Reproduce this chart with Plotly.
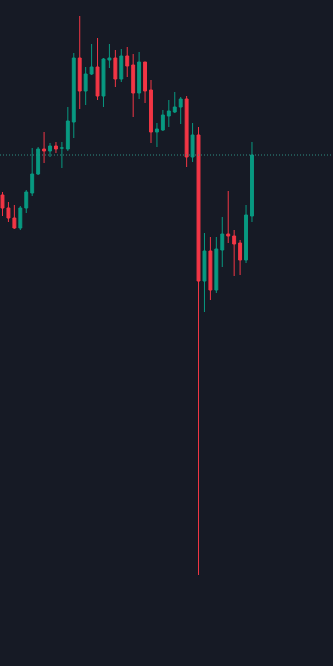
import plotly.graph_objects as go

# Price values (arbitrary units; higher = higher price)
idx = list(range(43))
opens = [471, 458, 448, 438, 458, 473, 492, 517, 515, 520, 518, 517, 544, 608, 575, 592, 599, 570, 606, 608, 587, 610, 601, 573, 604, 576, 534, 536, 550, 554, 559, 567, 509, 531, 385, 415, 376, 416, 432, 430, 423, 406, 450]
highs = [474, 464, 461, 460, 476, 518, 519, 534, 523, 524, 524, 559, 613, 650, 599, 622, 628, 608, 622, 616, 617, 619, 612, 614, 604, 586, 543, 556, 566, 574, 569, 570, 543, 539, 433, 429, 429, 449, 475, 436, 426, 461, 524]
lows = [450, 444, 437, 436, 453, 470, 491, 503, 509, 513, 498, 515, 528, 557, 561, 591, 566, 559, 598, 579, 584, 589, 549, 567, 563, 523, 519, 535, 539, 553, 542, 499, 504, 91, 354, 366, 373, 399, 423, 390, 391, 403, 444]
closes = [458, 448, 438, 458, 474, 492, 517, 515, 520, 517, 518, 545, 608, 575, 592, 599, 570, 607, 608, 587, 610, 600, 573, 604, 575, 534, 537, 551, 555, 559, 567, 509, 531, 385, 415, 376, 417, 432, 430, 422, 406, 451, 511]
last_price = 511

UP = "#089981"
DOWN = "#F23645"
BG = "#161A25"

fig = go.Figure()
fig.add_trace(go.Candlestick(
    x=idx, open=opens, high=highs, low=lows, close=closes,
    increasing=dict(line=dict(color=UP, width=1), fillcolor=UP),
    decreasing=dict(line=dict(color=DOWN, width=1), fillcolor=DOWN),
    whiskerwidth=0,
    hoverinfo="skip",
    showlegend=False,
))

fig.add_shape(type="line", xref="paper", yref="y", x0=0, x1=1,
              y0=last_price, y1=last_price,
              line=dict(color="#2E8F84", width=1, dash="1px,2px"))

fig.update_layout(
    width=333, height=666,
    margin=dict(l=0, r=0, t=0, b=0),
    paper_bgcolor=BG, plot_bgcolor=BG,
    showlegend=False,
    xaxis=dict(range=[-0.42, 55.64], visible=False, showgrid=False,
               rangeslider=dict(visible=False), fixedrange=True),
    yaxis=dict(range=[0, 666], visible=False, showgrid=False, fixedrange=True),
)

fig.write_html("out.html", config={"displayModeBar": False})
